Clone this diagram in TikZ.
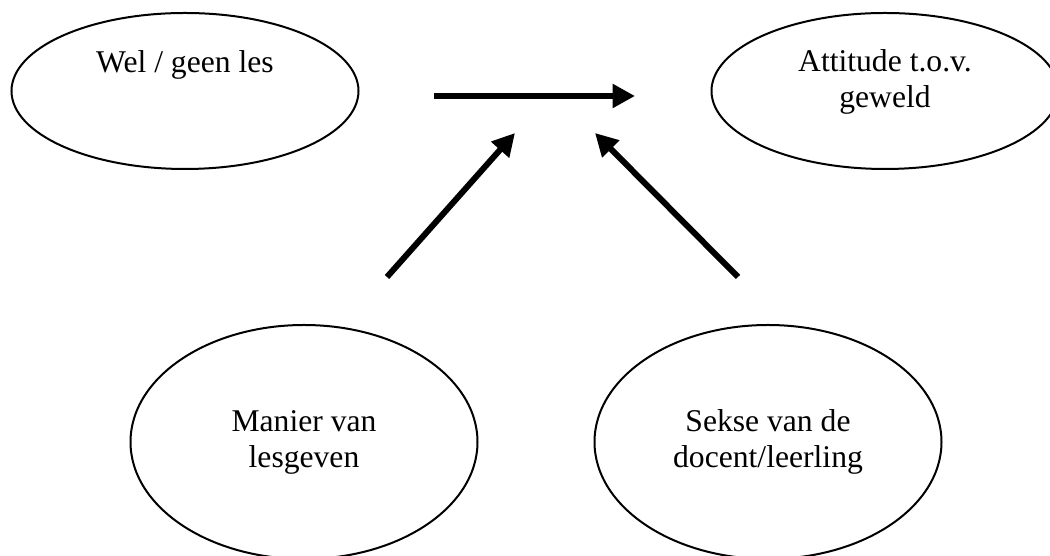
\documentclass[tikz,border=0pt]{standalone}
\usepackage{fontspec}
\setmainfont{Liberation Serif}
\usepackage{tikz}
\usetikzlibrary{arrows.meta,shapes.geometric}

\begin{document}
\begin{tikzpicture}[
		ellipse_style/.style={ellipse,draw=black,line width=0.04cm,minimum width=6.94cm,align=center,font=\fontsize{18}{20.5}\selectfont},
		top_style/.style={ellipse_style,minimum height=3.12cm},
		bottom_style/.style={ellipse_style,minimum height=4.68cm},
		arrow_style/.style={draw=black,line width=0.12cm,-{Triangle[length=0.45cm,width=0.46cm]}}]
		
		\useasboundingbox (0,0) rectangle (21,11.12);
		
		\node[top_style,text height=0.42cm,text depth=1.14cm] (les) at (3.70,9.30) {Wel / geen les};
		\node[top_style,text height=1.12cm,text depth=0.44cm] (att) at (17.70,9.30) {Attitude t.o.v.\\geweld};
		\node[bottom_style] (man) at (6.08,2.28) {Manier van\\lesgeven};
		\node[bottom_style] (sek) at (15.36,2.28) {Sekse van de\\docent/leerling};
		
		\coordinate (h0) at (8.68,9.20);
		\coordinate (h1) at (12.70,9.20);
		\coordinate (l0) at (7.74,5.58);
		\coordinate (l1) at (10.30,8.46);
		\coordinate (r0) at (14.76,5.58);
		\coordinate (r1) at (11.90,8.46);
		
		\draw[arrow_style]  (h0) -- (h1);
		\draw[arrow_style]  (l0) -- (l1);
		\draw[arrow_style]  (r0) -- (r1);
		
\end{tikzpicture}
\end{document}
